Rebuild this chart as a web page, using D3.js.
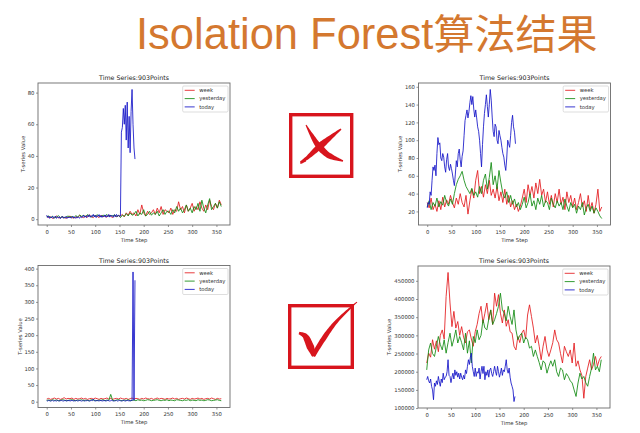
<!DOCTYPE html>
<html>
<head>
<meta charset="utf-8">
<script src="https://cdn.jsdelivr.net/npm/d3@7"></script>
<style>
  body { margin: 0; background: #fff; }
  svg { display: block; }
</style>
</head>
<body>
<div id="chart"></div>
<script>
// time step between samples: week / yesterday every 4 steps, today every 2
const stepLong = 4, stepShort = 2;
const seriesNames = ["week", "yesterday", "today"];
const xTicks = [0, 50, 100, 150, 200, 250, 300, 350];

// top-left: anomaly spike in "today"
const c1Week = [2,1,1.5,0.5,1,2,1,0.8,1.5,1,0.6,1.2,2,1,0.7,1.4,1,2.5,1.5,1,2,1.2,2.8,1.5,1,2.2,1.8,1,2.5,1.5,2,1.2,2.6,1.8,1,2.4,1.6,2.2,
  2,3,1.5,4,2.5,5,3,4,2,6,3,9,4,2,5,3,4,6,3,7,4,8,3,6,5,
  4,7,3,6,5,11,6,8,4,9,5,7,10,5,8,6,11,7,5,9,6,12,8,6,10,7,12,9];
const c1Yesterday = [1.5,2,1,1.8,0.8,1.3,2.2,1,1.6,0.9,1.4,2,1.2,1.7,1,2.2,1.5,2.6,1.8,2.4,1.6,2.9,2,1.4,2.5,1.8,2.8,2,1.5,2.6,2,3,1.7,2.4,2,2.8,1.6,2.5,
  1,2.5,1.8,3.5,2,4,2.5,3,5,2,4,3,6,2,3,5,2.5,4,3,5,2,4,6,3,5,
  5,3,6,4,8,5,7,4,6,9,5,7,4,8,6,10,5,12,7,4,9,13,6,8,10,7,11,8];
const c1Today = [2.5,1,2,0.5,1.5,0.8,1.8,0.6,1.2,2,0.5,1.4,0.8,1.6,0.4,1,1.8,0.6,1.2,0.9,1.7,0.5,1.3,0.8,1.5,0.6,1.1,1.9,0.7,1.3,0.5,1.6,0.9,1.2,0.6,1.8,1,1.4,
  2.6,1.2,2,1,2.4,1.5,2.8,1.2,2.2,1.6,3,1.4,2.5,1,2.2,1.8,2.9,1.3,2.4,1.1,2,1.6,2.7,1.2,2.3,1.5,3,1.3,2.6,1.8,2.2,1.2,2.8,1.5,3,1.6,2.4,1.9,
  2,55,58,70,60,72,50,74,45,65,42,68,82,60,45,38];
const c1YTicks = [0, 20, 40, 60, 80];

// top-right
const c2Week = [30,24,35,22,28,20,32,22,36,25, 33,28,38,30,24,35,28,40,30,25, 38,17,32,45,35,55,66,40,48,36,
  50,40,55,38,45,35,48,32,42,30, 45,28,38,25,32,22,28,20,26,35, 45,30,50,38,48,35,52,40,56,38,
  45,30,42,28,38,25,40,30,45,28, 36,22,42,30,38,25,35,22,30,40, 25,32,20,38,22,30,18,28,45,20, 25];
const c2Yesterday = [25,32,22,30,26,35,25,31,27,38, 30,26,34,28,40,50,56,60,65,55, 48,44,40,46,38,42,36,48,40,55,
  62,45,58,75,50,60,45,66,52,40, 35,42,30,38,28,34,25,30,22,28, 36,24,30,40,26,32,22,35,28,38,
  25,32,30,22,35,28,24,32,26,30, 22,34,26,20,30,24,28,18,26,22, 30,16,24,28,20,26,18,24,20,15, 12];
const c2Today = [24,30,28,42,38,55,70,66,72,60, 85,103,95,97,80,77,85,81,70,64, 78,85,70,66,73,68,62,55,49,62,
  77,70,85,90,78,70,82,88,105,122, 128,134,125,132,142,150,140,149,135,126, 134,125,115,110,100,85,70,95,115,130,
  140,151,138,126,140,157,145,126,110,104, 118,115,100,96,111,105,100,92,85,81, 72,66,80,100,96,92,105,120,128,115, 109,96];
const c2YTicks = [20, 40, 60, 80, 100, 120, 140, 160];

// bottom-left
const c3Week = [8,10,7,9,11,8,10,7,9,12, 8,10,9,11,7,10,8,9,11,8, 10,7,9,10,8,11,9,7,10,8, 9,11,8,10,7,9,10,8,11,9,
  8,10,7,9,11,8,10,9,7,10, 8,11,9,8,10,7,9,11,8,10, 9,7,10,8,9,11,8,10,7,9, 10,8,11,9,7,10,8,9,11,8,
  10,7,9,10,8,11,9,7,10,8, 9];
const c3Yesterday = [4,5,3,6,4,5,3,4,6,5, 3,4,5,6,4,3,5,4,6,3, 5,4,3,6,5,4,3,5,4,6, 3,5,4,22,4,3,5,6,4,3,
  5,4,6,3,4,5,3,6,4,5, 3,4,6,5,3,4,5,6,4,3, 5,4,6,3,5,4,3,6,5,4, 3,5,4,6,3,5,4,3,6,4,
  5,3,4,6,5,3,4,5,6,4, 3];
const c3Today = [3,2,4,3,2,3,4,2,3,3, 2,4,3,2,3,4,3,2,3,4, 2,3,3,4,2,3,4,3,2,3, 3,4,2,3,4,3,2,3,4,2,
  3,3,4,3,2,3,4,3,8,3, 2,3,4,3,2,4,3,3,2,4, 3,2,3,4,3,2,3,4,3,2, 3,3,4,2,3,4,3,2,3,4,
  3,2,3,4,3,3,2,4,3,390, 4,365];
const c3YTicks = [0, 50, 100, 150, 200, 250, 300, 350, 400];

// bottom-right
const c4Week = [224000,251000,240000,288000,262000,285000,255000,300000,315000,290000,
  407000,473000,389000,324000,366000,320000,338000,300000,324000,295000,
  279000,310000,315000,290000,270000,310000,330000,360000,380000,334000,
  361000,389000,343000,370000,330000,416000,380000,412000,361000,334000,
  370000,325000,343000,310000,306000,270000,260000,297000,280000,306000,
  315000,290000,356000,384000,352000,320000,279000,300000,270000,233000,
  270000,297000,260000,242000,260000,280000,315000,288000,279000,250000,
  224000,270000,255000,242000,260000,224000,279000,215000,230000,205000,
  190000,127000,187000,210000,233000,205000,220000,242000,215000,233000, 242000];
const c4Yesterday = [205000,260000,279000,250000,242000,270000,297000,275000,260000,288000,
  251000,280000,306000,270000,290000,315000,279000,297000,280000,260000,
  306000,251000,285000,224000,297000,280000,315000,288000,300000,343000,
  320000,315000,345000,370000,330000,343000,360000,380000,416000,370000,
  361000,340000,380000,352000,330000,370000,315000,288000,300000,306000,
  279000,295000,288000,265000,270000,242000,260000,242000,225000,205000,
  230000,224000,196000,215000,230000,215000,233000,200000,187000,210000,
  205000,178000,195000,187000,175000,169000,150000,132000,169000,196000,
  180000,187000,170000,160000,187000,210000,251000,205000,215000,200000, 233000];
const c4Today = [178000,187000,175000,169000,180000,160000,150000,123000,169000,160000,
  175000,165000,187000,172000,160000,180000,170000,196000,178000,185000,
  187000,200000,233000,190000,187000,170000,185000,196000,180000,205000,
  190000,200000,185000,196000,180000,196000,185000,178000,190000,180000,
  205000,195000,215000,233000,220000,240000,251000,215000,200000,187000,
  210000,187000,200000,196000,210000,180000,200000,215000,195000,215000,
  178000,200000,190000,205000,185000,205000,210000,195000,187000,200000,
  215000,200000,190000,215000,200000,185000,196000,210000,190000,205000,
  200000,215000,233000,205000,196000,210000,185000,169000,160000,150000, 118000,132000];
const c4YTicks = [100000, 150000, 200000, 250000, 300000, 350000, 400000, 450000];

const width = 640, height = 433;
const W = 192, H = 142;
const colors = { week: "#e3191c", yesterday: "#118a11", today: "#1414c8" };
const red = "#d8151d";
const font = "'DejaVu Sans', sans-serif";

const svg = d3.select("#chart").append("svg")
  .attr("width", width)
  .attr("height", height)
  .style("background", "#fff");

// big title
const title = svg.append("text")
  .attr("x", 136)
  .attr("y", 49)
  .attr("fill", "#d4782f")
  .style("font-family", "'Liberation Sans', sans-serif")
  .style("font-size", "43.5px");
title.append("tspan").text("Isolation Forest");
title.append("tspan")
  .style("font-family", "'Noto Sans CJK SC', sans-serif")
  .style("font-size", "41px")
  .text("算法结果");

const panels = [
  { left: 38, top: 83, week: c1Week, yesterday: c1Yesterday, today: c1Today, yTicks: c1YTicks },
  { left: 418.5, top: 83, week: c2Week, yesterday: c2Yesterday, today: c2Today, yTicks: c2YTicks },
  { left: 38, top: 265.5, week: c3Week, yesterday: c3Yesterday, today: c3Today, yTicks: c3YTicks },
  { left: 418, top: 266, week: c4Week, yesterday: c4Yesterday, today: c4Today, yTicks: c4YTicks }
];

function padded([a, b]) {
  const m = (b - a) * 0.05;
  return [a - m, b + m];
}

function drawPanel(p) {
  const g = svg.append("g").attr("transform", `translate(${p.left},${p.top})`);

  const series = seriesNames.map(name => ({
    name,
    pts: p[name].map((v, i) => ({ t: i * (name === "today" ? stepShort : stepLong), v }))
  }));
  const all = series.flatMap(s => s.pts);

  const x = d3.scaleLinear().domain(padded(d3.extent(all, d => d.t))).range([0, W]);
  const y = d3.scaleLinear().domain(padded(d3.extent(all, d => d.v))).range([H, 0]);

  const line = d3.line().x(d => x(d.t)).y(d => y(d.v));

  g.append("g")
    .selectAll("path")
    .data(series)
    .join("path")
    .attr("d", d => line(d.pts))
    .attr("fill", "none")
    .attr("stroke", d => colors[d.name])
    .attr("stroke-width", 0.85)
    .attr("stroke-linejoin", "round");

  // frame
  g.append("rect")
    .attr("width", W)
    .attr("height", H)
    .attr("fill", "none")
    .attr("stroke", "#6a6a6a")
    .attr("stroke-width", 0.9);

  const xAxis = g.append("g")
    .attr("transform", `translate(0,${H})`)
    .call(d3.axisBottom(x).tickValues(xTicks).tickSize(2).tickPadding(3).tickFormat(d3.format("d")));
  const yAxis = g.append("g")
    .call(d3.axisLeft(y).tickValues(p.yTicks).tickSize(2).tickPadding(1.5).tickFormat(d3.format("d")));

  [xAxis, yAxis].forEach(a => {
    a.select(".domain").remove();
    a.selectAll(".tick line").attr("stroke", "#6a6a6a").attr("stroke-width", 0.7);
    a.selectAll(".tick text")
      .attr("fill", "#333")
      .style("font-family", font)
      .style("font-size", "5.3px");
  });

  g.append("text")
    .attr("x", W / 2)
    .attr("y", -3)
    .attr("text-anchor", "middle")
    .attr("fill", "#222")
    .style("font-family", font)
    .style("font-size", "6.3px")
    .text("Time Series:903Points");

  g.append("text")
    .attr("x", W / 2)
    .attr("y", H + 16.8)
    .attr("text-anchor", "middle")
    .attr("fill", "#333")
    .style("font-family", font)
    .style("font-size", "5.3px")
    .text("Time Step");

  const yb = yAxis.node().getBBox();
  g.append("text")
    .attr("transform", `translate(${yb.x - 2.8},${H / 2}) rotate(-90)`)
    .attr("text-anchor", "middle")
    .attr("fill", "#333")
    .style("font-family", font)
    .style("font-size", "5.3px")
    .text("T-series Value");

  // legend
  const lg = g.append("g");
  const box = lg.append("rect")
    .attr("rx", 1.2)
    .attr("fill", "#fff")
    .attr("fill-opacity", 0.85)
    .attr("stroke", "#c8c8c8")
    .attr("stroke-width", 0.6);
  series.forEach((s, i) => {
    const yy = 4.3 + i * 8.3;
    lg.append("line")
      .attr("x1", 2).attr("x2", 12)
      .attr("y1", yy).attr("y2", yy)
      .attr("stroke", colors[s.name])
      .attr("stroke-width", 0.85);
    lg.append("text")
      .attr("x", 16.5)
      .attr("y", yy)
      .attr("dy", "0.35em")
      .attr("fill", "#333")
      .style("font-family", font)
      .style("font-size", "5.3px")
      .text(s.name);
  });
  const lb = lg.node().getBBox();
  const lw = lb.x + lb.width + 2.5;
  box.attr("width", lw).attr("height", 26);
  lg.attr("transform", `translate(${W - 2 - lw},3)`);
}

panels.forEach(drawPanel);

// brush-like tapered stroke through points
function brush(pts, widths) {
  const tmp = svg.append("path")
    .attr("d", d3.line().curve(d3.curveCatmullRom)(pts))
    .attr("fill", "none");
  const node = tmp.node();
  const len = node.getTotalLength();
  const wScale = d3.scaleLinear()
    .domain(widths.map((_, i) => i / (widths.length - 1)))
    .range(widths);
  const n = 40;
  const left = [], right = [];
  for (let i = 0; i <= n; i++) {
    const f = i / n;
    const a = node.getPointAtLength(Math.max(0, f * len - 0.5));
    const b = node.getPointAtLength(Math.min(len, f * len + 0.5));
    const c = node.getPointAtLength(f * len);
    const dx = b.x - a.x, dy = b.y - a.y;
    const d = Math.hypot(dx, dy) || 1;
    const w = wScale(f) / 2;
    left.push([c.x - dy / d * w, c.y + dx / d * w]);
    right.push([c.x + dy / d * w, c.y - dx / d * w]);
  }
  tmp.remove();
  svg.append("path")
    .attr("d", d3.line().curve(d3.curveLinearClosed)(left.concat(right.reverse())))
    .attr("fill", red);
}

// cross icon
svg.append("rect")
  .attr("x", 290.7).attr("y", 114.7)
  .attr("width", 61).attr("height", 61.6)
  .attr("fill", "none")
  .attr("stroke", red)
  .attr("stroke-width", 3.4);
brush([[306, 125], [311, 134], [318, 145], [328, 155], [343, 161]], [1, 4, 6.5, 5.5, 1.5]);
brush([[341, 129], [331, 137], [319, 147], [307, 158], [300, 163], [306, 161]], [1.5, 4, 6.5, 5, 3, 1]);

// check icon
svg.append("rect")
  .attr("x", 289.7).attr("y", 305.7)
  .attr("width", 62.6).attr("height", 61.6)
  .attr("fill", "none")
  .attr("stroke", red)
  .attr("stroke-width", 3.4);
brush([[299, 333], [305, 336], [310, 346], [314, 356]], [2.5, 6.5, 7.5, 4]);
brush([[313, 356], [322, 341], [336, 322], [357, 302]], [4.5, 5, 3, 1]);
</script>
</body>
</html>
